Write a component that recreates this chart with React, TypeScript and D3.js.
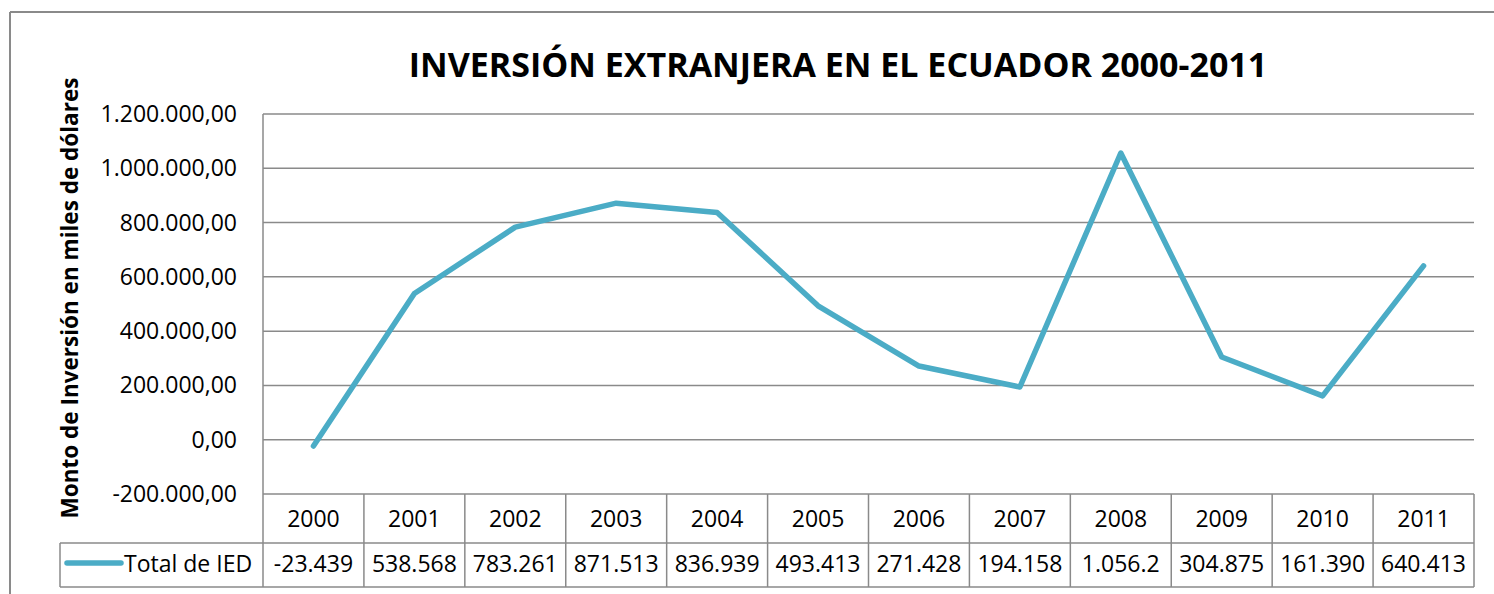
import React from "react";
import * as d3 from "d3";

const years = ["2000", "2001", "2002", "2003", "2004", "2005", "2006", "2007", "2008", "2009", "2010", "2011"];
const values = [-23439, 538568, 783261, 871513, 836939, 493413, 271428, 194158, 1056200, 304875, 161390, 640413];
const tableLabels = ["-23.439", "538.568", "783.261", "871.513", "836.939", "493.413", "271.428", "194.158", "1.056.2", "304.875", "161.390", "640.413"];
const yTicks = [-200000, 0, 200000, 400000, 600000, 800000, 1000000, 1200000];
const seriesName = "Total de IED";
const title = "INVERSIÓN EXTRANJERA EN EL ECUADOR 2000-2011";
const yTitle = "Monto de Inversión en miles de dólares";

const W = 1494;
const H = 594;
const plotL = 263;
const plotR = 1474;
const plotT = 114;
const plotB = 494;
const headerB = 543;
const rowB = 587;
const legendL = 60;
const FONT = "'Open Sans', sans-serif";
const GRID = "#8a8a8a";
const LINE = "#4BACC6";

const fmt = (v: number) => {
  const s = d3.format(",.2f")(v);
  return s.replace(/,/g, "#").replace(/\./g, ",").replace(/#/g, ".").replace("−", "-");
};

export default function App() {
  const x = d3.scaleBand<string>().domain(years).range([plotL, plotR]);
  const y = d3.scaleLinear().domain([-200000, 1200000]).range([plotB, plotT]);
  const line = d3
    .line<number>()
    .x((_, i) => (x(years[i]) as number) + x.bandwidth() / 2)
    .y((d) => y(d));

  return (
    <svg width={W} height={H} style={{ position: "absolute", left: 0, top: 0, background: "#fff" }}>
      <rect x={0} y={0} width={W} height={H} fill="#fff" />
      {/* outer chart border */}
      <line x1={10} y1={12} x2={W + 5} y2={12} stroke={GRID} strokeWidth={2} />
      <line x1={10} y1={12} x2={10} y2={H + 5} stroke={GRID} strokeWidth={2} />

      <text x={838} y={77} textAnchor="middle" fontFamily={FONT} fontWeight="bold" fontSize={34} fill="#000">
        {title}
      </text>

      <text
        transform={`translate(78,298) rotate(-90)`}
        textAnchor="middle"
        fontFamily={FONT}
        fontWeight="bold"
        fontSize={22.5}
        fill="#000"
      >
        {yTitle}
      </text>

      {/* gridlines and tick labels */}
      {yTicks.map((t) => (
        <g key={t}>
          <line x1={plotL} x2={plotR} y1={y(t)} y2={y(t)} stroke={GRID} strokeWidth={1.5} />
          <text x={237} y={y(t) + 8} textAnchor="end" fontFamily={FONT} fontSize={23} fill="#000">
            {fmt(t)}
          </text>
        </g>
      ))}
      <line x1={plotL} x2={plotL} y1={plotT} y2={plotB} stroke={GRID} strokeWidth={1.5} />

      {/* data line */}
      <path d={line(values) || ""} fill="none" stroke={LINE} strokeWidth={5.5} strokeLinejoin="round" strokeLinecap="round" />

      {/* data table */}
      <g fontFamily={FONT} fontSize={23} fill="#000">
        <line x1={legendL} x2={plotR} y1={headerB} y2={headerB} stroke={GRID} strokeWidth={1.5} />
        <line x1={legendL} x2={plotR} y1={rowB} y2={rowB} stroke={GRID} strokeWidth={1.5} />
        <line x1={legendL} x2={legendL} y1={headerB} y2={rowB} stroke={GRID} strokeWidth={1.5} />
        {years.map((yr, i) => {
          const x0 = x(yr) as number;
          return (
            <g key={yr}>
              <line x1={x0} x2={x0} y1={plotB} y2={rowB} stroke={GRID} strokeWidth={1.5} />
              <text x={x0 + x.bandwidth() / 2} y={527} textAnchor="middle">
                {yr}
              </text>
              <text x={x0 + x.bandwidth() / 2} y={572} textAnchor="middle">
                {tableLabels[i]}
              </text>
            </g>
          );
        })}
        <line x1={plotR} x2={plotR} y1={plotB} y2={rowB} stroke={GRID} strokeWidth={1.5} />
        <line x1={67} x2={121} y1={563} y2={563} stroke={LINE} strokeWidth={5.5} strokeLinecap="round" />
        <text x={124} y={572}>
          {seriesName}
        </text>
      </g>
    </svg>
  );
}
